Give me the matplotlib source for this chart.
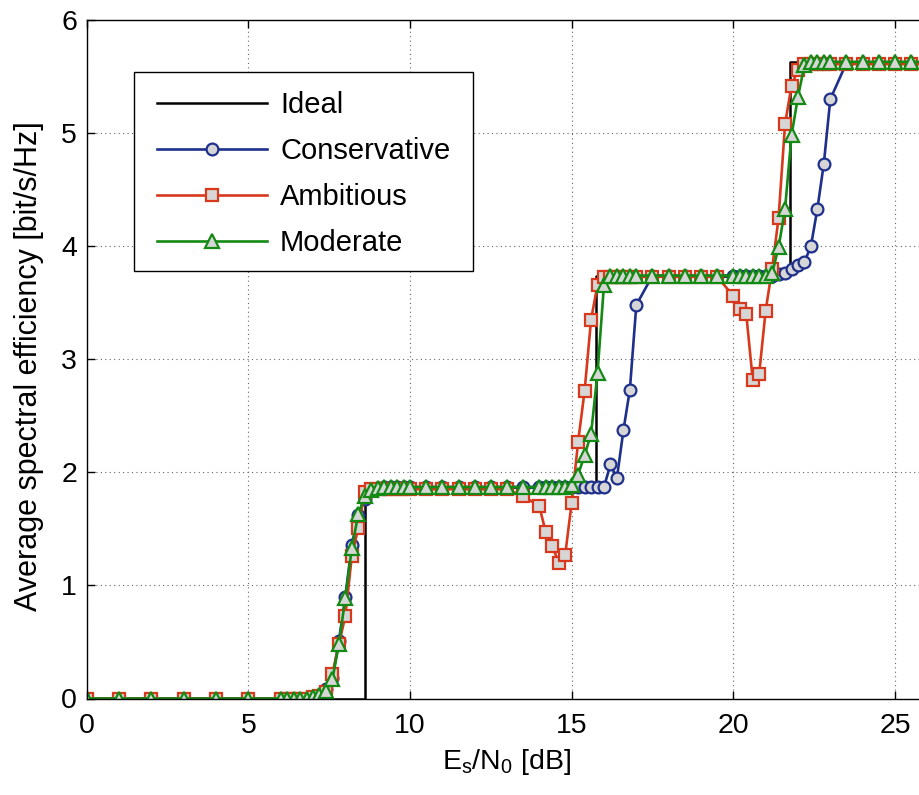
import matplotlib
matplotlib.use("Agg")
import matplotlib.pyplot as plt
from matplotlib.patches import Rectangle

plt.rcParams['font.family'] = ['Liberation Sans', 'DejaVu Sans']
plt.rcParams['mathtext.default'] = 'regular'

# ---- data ----
snr_db = [0, 1, 2, 3, 4, 5,
          6.0, 6.2, 6.4, 6.6, 6.8, 7.0, 7.2, 7.4, 7.6, 7.8, 8.0, 8.2, 8.4, 8.6, 8.8,
          9.0, 9.2, 9.4, 9.6, 9.8, 10.0,
          10.5, 11.0, 11.5, 12.0, 12.5, 13.0, 13.5,
          14.0, 14.2, 14.4, 14.6, 14.8, 15.0, 15.2, 15.4, 15.6, 15.8, 16.0,
          16.2, 16.4, 16.6, 16.8, 17.0,
          17.5, 18.0, 18.5, 19.0, 19.5,
          20.0, 20.2, 20.4, 20.6, 20.8, 21.0, 21.2, 21.4, 21.6, 21.8, 22.0,
          22.2, 22.4, 22.6, 22.8, 23.0,
          23.5, 24.0, 24.5, 25.0, 25.5, 26.0]

conservative = [0, 0, 0, 0, 0, 0,
                0, 0, 0, 0, 0, 0.01, 0.03, 0.08, 0.18, 0.51, 0.90, 1.36, 1.62, 1.76, 1.84,
                1.86, 1.87, 1.87, 1.87, 1.87, 1.87,
                1.87, 1.87, 1.87, 1.87, 1.87, 1.87, 1.87,
                1.87, 1.87, 1.87, 1.87, 1.87, 1.87, 1.87, 1.87, 1.87, 1.87, 1.87,
                2.07, 1.95, 2.37, 2.73, 3.48,
                3.74, 3.74, 3.74, 3.74, 3.74,
                3.74, 3.74, 3.74, 3.74, 3.74, 3.74, 3.74, 3.75, 3.76, 3.80, 3.83,
                3.86, 4.00, 4.33, 4.73, 5.30,
                5.62, 5.62, 5.62, 5.62, 5.62, 5.62]

ambitious = [0, 0, 0, 0, 0, 0,
             0, 0, 0, 0, 0, 0.01, 0.02, 0.06, 0.22, 0.48, 0.73, 1.26, 1.51, 1.83, 1.85,
             1.85, 1.85, 1.85, 1.85, 1.85, 1.85,
             1.85, 1.85, 1.85, 1.85, 1.85, 1.85, 1.79,
             1.70, 1.47, 1.35, 1.20, 1.27, 1.73, 2.27, 2.72, 3.35, 3.66, 3.73,
             3.73, 3.73, 3.73, 3.73, 3.73,
             3.73, 3.73, 3.73, 3.73, 3.73,
             3.56, 3.44, 3.40, 2.82, 2.87, 3.43, 3.80, 4.25, 5.08, 5.42, 5.56,
             5.61, 5.61, 5.61, 5.61, 5.61,
             5.61, 5.61, 5.61, 5.61, 5.61, 5.61]

moderate = [0, 0, 0, 0, 0, 0,
            0, 0, 0, 0, 0, 0.01, 0.03, 0.07, 0.17, 0.48, 0.89, 1.33, 1.63, 1.79, 1.84,
            1.86, 1.87, 1.87, 1.87, 1.87, 1.87,
            1.87, 1.87, 1.87, 1.87, 1.87, 1.87, 1.87,
            1.87, 1.87, 1.87, 1.87, 1.87, 1.89, 1.98, 2.15, 2.34, 2.88, 3.66,
            3.74, 3.74, 3.74, 3.74, 3.74,
            3.74, 3.74, 3.74, 3.74, 3.74,
            3.74, 3.74, 3.74, 3.74, 3.74, 3.74, 3.76, 3.99, 4.33, 4.98, 5.32,
            5.60, 5.63, 5.63, 5.63, 5.63,
            5.63, 5.63, 5.63, 5.63, 5.63, 5.63]

ideal_x = [0, 8.6, 15.75, 21.75, 26]
ideal_y = [0, 1.87, 3.74, 5.63, 5.63]

x_ticks = [0, 5, 10, 15, 20, 25]
y_ticks = [0, 1, 2, 3, 4, 5, 6]

# ---- figure ----
W, H = 920, 795
fig = plt.figure(figsize=(W / 100, H / 100), dpi=100)
ax = fig.add_axes([86.7 / W, 96.5 / H, 840.6 / W, 678.5 / H])

face = '#d6d6d6'
lw = 1.9
ax.step(ideal_x, ideal_y, where='post', color='black', lw=1.8, label='Ideal')
ax.plot(snr_db, conservative, color='#1f2f8c', lw=lw, marker='o', ms=8.5,
        mfc=face, mec='#1f2f8c', mew=1.6, label='Conservative')
ax.plot(snr_db, ambitious, color='#d8391c', lw=lw, marker='s', ms=8.3,
        mfc=face, mec='#d8391c', mew=1.6, label='Ambitious')
ax.plot(snr_db, moderate, color='#138a13', lw=lw, marker='^', ms=9.5,
        mfc=face, mec='#138a13', mew=1.6, label='Moderate')

ax.set_xlim(0, 26)
ax.set_ylim(0, 6)
ax.set_xticks(x_ticks)
ax.set_yticks(y_ticks)
ax.tick_params(axis='both', direction='in', length=6, width=1.0,
               top=True, right=True, labelsize=20.5)
ax.tick_params(axis='x', pad=10.5)
ax.tick_params(axis='y', pad=7)
for s in ax.spines.values():
    s.set_linewidth(1.0)
ax.grid(True, linestyle=(0, (1, 3)), color='0.4', linewidth=0.8)

ax.set_xlabel('$E_s/N_0$ [dB]', fontsize=20.5, labelpad=6)
ax.set_ylabel('Average spectral efficiency [bit/s/Hz]', fontsize=22)
ax.yaxis.set_label_coords(-0.051, 0.49)

# legend frame (style element) and legend entries
frame = Rectangle((134 / W, 1 - 271 / H), (473 - 134) / W, (271 - 72) / H,
                  transform=fig.transFigure, facecolor='white',
                  edgecolor='black', linewidth=1.0, zorder=4, clip_on=False)
ax.add_patch(frame)
fs = 21
bp = 16 / (fs * 100 / 72)
leg = ax.legend(loc='upper left', bbox_to_anchor=(141 / W, 1 - 75 / H),
                bbox_transform=fig.transFigure, borderaxespad=0,
                fontsize=fs, handlelength=3.77, handletextpad=0.45,
                borderpad=bp, labelspacing=0.62, numpoints=1,
                frameon=False)
leg.set_zorder(5)

fig.savefig('out.png', dpi=100)
